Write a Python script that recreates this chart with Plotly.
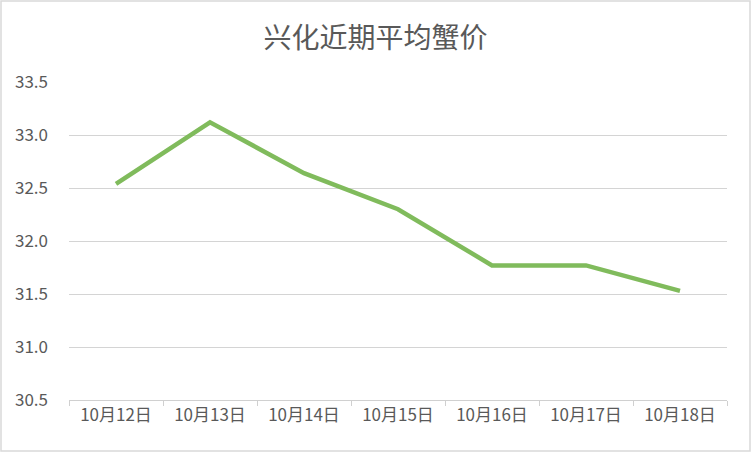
import plotly.graph_objects as go

categories = ["10月12日", "10月13日", "10月14日", "10月15日", "10月16日", "10月17日", "10月18日"]
prices = [32.54, 33.12, 32.64, 32.30, 31.77, 31.77, 31.53]
y_ticks = [30.5, 31.0, 31.5, 32.0, 32.5, 33.0, 33.5]
title_text = "兴化近期平均蟹价"

FONT = "Noto Sans CJK SC"
GREY = "#595959"

fig = go.Figure()
fig.add_trace(go.Scatter(
    x=categories, y=prices, mode="lines",
    line=dict(color="#80bb5c", width=4.5),
    hoverinfo="x+y",
))

fig.update_layout(
    width=751, height=452,
    margin=dict(l=69, r=24, t=82, b=52),
    paper_bgcolor="white", plot_bgcolor="white",
    showlegend=False,
    title=dict(text=title_text, x=0.5, xanchor="center", y=0.915, yanchor="middle",
               font=dict(family=FONT, size=28, color=GREY)),
    font=dict(family=FONT, color=GREY),
)
fig.update_xaxes(
    type="category", tickson="boundaries", ticks="outside", ticklen=5,
    tickcolor="#d0d0d0", showline=True, linecolor="#d0d0d0", linewidth=1,
    showgrid=False, tickfont=dict(family=FONT, size=17, color=GREY),
    range=[-0.5, len(categories) - 0.5],
)
fig.update_yaxes(
    range=[30.5, 33.5], tickvals=y_ticks, ticktext=[f"{v:.1f}" for v in y_ticks],
    showgrid=True, gridcolor="#d4d4d4", gridwidth=1, zeroline=False,
    showline=False, ticks="", ticklabelstandoff=20,
    tickfont=dict(family=FONT, size=17, color=GREY),
)
fig.add_shape(type="rect", xref="paper", yref="paper", x0=-68/658, x1=1+23/658,
              y0=-51/318, y1=1+81/318, line=dict(color="#d9d9d9", width=1.5))

fig.write_html("out.html", config={"displayModeBar": False},
               post_script="document.body.style.margin='0';")
